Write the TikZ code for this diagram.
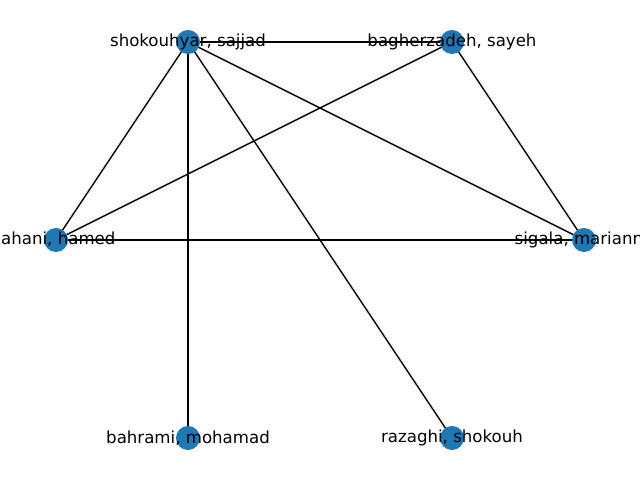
\documentclass[tikz,border=0pt]{standalone}
\usepackage{fontspec}
\setmainfont{DejaVu Sans}
\usepackage{xcolor}
\definecolor{node-color}{HTML}{1F77B4}

\begin{document}
\begin{tikzpicture}[x=0.01in, y=-0.01in,
    person/.style={circle, fill=node-color, draw=none, minimum size=0.24in, inner sep=0pt},
    namelabel/.style={font=\fontsize{12}{14}\selectfont, inner sep=0pt, anchor=center, text=black},
    link/.style={black, line width=1pt}]

    % Canvas
    \useasboundingbox (0,0) rectangle (640,480);
    \clip (0,0) rectangle (640,480);

    % Positions of the authors
    \coordinate (sh) at (188,42);
    \coordinate (ba) at (452,42);
    \coordinate (ha) at (56,240);
    \coordinate (si) at (584,240);
    \coordinate (bh) at (188,438);
    \coordinate (ra) at (452,438);

    % Co-author links
    \draw[link] (sh) -- (ba);
    \draw[link] (sh) -- (ha);
    \draw[link] (sh) -- (si);
    \draw[link] (sh) -- (bh);
    \draw[link] (sh) -- (ra);
    \draw[link] (ba) -- (ha);
    \draw[link] (ba) -- (si);
    \draw[link] (ha) -- (si);

    % Author dots
    \node[person] (sh-dot) at (sh) {};
    \node[person] (ba-dot) at (ba) {};
    \node[person] (ha-dot) at (ha) {};
    \node[person] (si-dot) at (si) {};
    \node[person] (bh-dot) at (bh) {};
    \node[person] (ra-dot) at (ra) {};

    % Names on top
    \node[namelabel] (sh-name) at (sh) {shokouhyar, sajjad};
    \node[namelabel] (ba-name) at (ba) {bagherzadeh, sayeh};
    \node[namelabel] (ha-name) at (ha) {jahani, hamed};
    \node[namelabel] (si-name) at (si) {sigala, marianne};
    \node[namelabel] (bh-name) at (bh) {bahrami, mohamad};
    \node[namelabel] (ra-name) at (ra) {razaghi, shokouh};
\end{tikzpicture}
\end{document}
